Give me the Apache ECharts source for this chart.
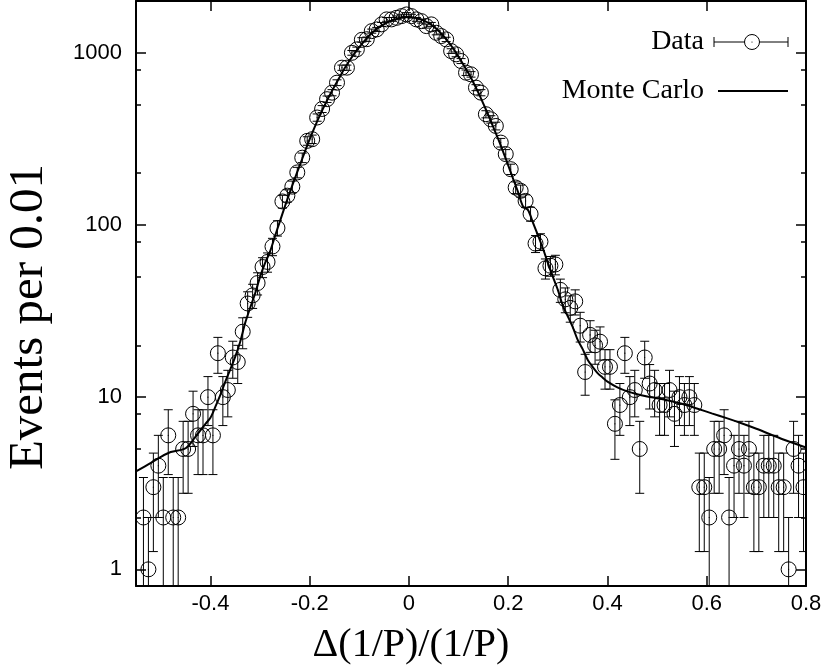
<!DOCTYPE html>
<html>
<head>
<meta charset="utf-8">
<script src="https://cdn.jsdelivr.net/npm/echarts@6/dist/echarts.min.js"></script>
<style>
html,body{margin:0;padding:0;background:#fff;}
#chart{width:828px;height:671px;}
</style>
</head>
<body>
<div id="chart"></div>
<script>
// ---- data ----
const binCenters = [
 -0.535,-0.525,-0.515,-0.505,-0.495,-0.485,-0.475,-0.465,-0.455,-0.445,
 -0.435,-0.425,-0.415,-0.405,-0.395,-0.385,-0.375,-0.365,-0.355,-0.345,
 -0.335,-0.325,-0.315,-0.305,-0.295,-0.285,-0.275,-0.265,-0.255,-0.245,
 -0.235,-0.225,-0.215,-0.205,-0.195,-0.185,-0.175,-0.165,-0.155,-0.145,
 -0.135,-0.125,-0.115,-0.105,-0.095,-0.085,-0.075,-0.065,-0.055,-0.045,
 -0.035,-0.025,-0.015,-0.005,0.005,0.015,0.025,0.035,0.045,0.055,
 0.065,0.075,0.085,0.095,0.105,0.115,0.125,0.135,0.145,0.155,
 0.165,0.175,0.185,0.195,0.205,0.215,0.225,0.235,0.245,0.255,
 0.265,0.275,0.285,0.295,0.305,0.315,0.325,0.335,0.345,0.355,
 0.365,0.375,0.385,0.395,0.405,0.415,0.425,0.435,0.445,0.455,
 0.465,0.475,0.485,0.495,0.505,0.515,0.525,0.535,0.545,0.555,
 0.565,0.575,0.585,0.595,0.605,0.615,0.625,0.635,0.645,0.655,
 0.665,0.675,0.685,0.695,0.705,0.715,0.725,0.735,0.745,0.755,
 0.765,0.775,0.785,0.795
];
const dataCounts = [
 2,1,3,4,2,6,2,2,5,5,
 8,6,6,10,6,18,10,11,17,16,
 24,35,39,46,57,61,75,96,137,148,
 167,202,246,308,315,421,472,538,587,671,
 820,820,1000,1047,1190,1200,1337,1368,1463,1564,
 1564,1597,1634,1671,1634,1564,1528,1430,1463,1308,
 1251,1197,1024,980,896,767,750,628,587,440,
 411,376,301,258,211,165,158,138,116,78,
 80,56,58,59,42,37,33,36,26,14,
 23,20,21,15,15,7,9,18,10,11,
 5,17,12,11,9,9,11,8,10,9,
 10,9,3,3,2,5,5,6,2,4,
 5,4,5,3,3,4,4,4,3,3,
 1,5,4,3
];
const mcX = [
 -0.55,-0.52,-0.50,-0.48,-0.45,-0.43,-0.41,-0.40,-0.39,-0.38,-0.37,-0.36,-0.35,-0.34,-0.33,-0.32,-0.31,-0.30,
 -0.29,-0.28,-0.27,-0.26,-0.25,-0.24,-0.23,-0.22,-0.21,-0.20,-0.19,-0.18,-0.17,-0.16,-0.15,-0.14,-0.13,-0.12,
 -0.11,-0.10,-0.09,-0.08,-0.07,-0.06,-0.05,-0.04,-0.03,-0.02,-0.01,0.00,0.01,0.02,0.03,0.04,0.05,0.06,
 0.07,0.08,0.09,0.10,0.11,0.12,0.13,0.14,0.15,0.16,0.17,0.18,0.19,0.20,0.21,0.22,0.23,0.24,0.25,0.26,
 0.27,0.28,0.29,0.30,0.31,0.32,0.33,0.34,0.35,0.36,0.37,0.38,0.39,0.40,0.42,0.44,0.46,0.48,0.50,0.52,
 0.55,0.58,0.61,0.64,0.67,0.70,0.73,0.76,0.80
];
const mcY = [
 3.7,4.15,4.5,4.8,5.05,5.9,7.0,7.6,8.8,10.3,12.3,14.5,17.2,21,27,33,40,50,
 60,70,86,105,128,155,186,222,265,315,370,430,495,565,640,720,810,900,
 990,1080,1170,1260,1340,1410,1470,1520,1560,1590,1610,1615,1605,1580,1540,1490,1420,1340,
 1250,1150,1050,950,850,760,670,585,505,435,370,315,265,222,185,155,128,122,103,87,
 73,60,50,42,34,29.5,25.5,21.5,19,16.5,15,13.8,13,12.3,11.4,10.8,10.4,10.1,9.85,9.6,
 9.15,8.6,8.05,7.55,7.05,6.55,6.05,5.6,5.1
];
const xTickValues = [-0.4,-0.2,0,0.2,0.4,0.6,0.8];
const yMajorTicks = [1,10,100,1000];
const yMinorTicks = [2,5,8,20,50,80,200,500,800,2000];

// ---- chart ----
const chart = echarts.init(document.getElementById('chart'), null, {renderer:'canvas'});
const dataPts = binCenters.map((x,i)=>[x, dataCounts[i]]);
const mcPts = mcX.map((x,i)=>[x, mcY[i]]);

const axisFont = {fontFamily:'Liberation Sans', fontSize:22, color:'#000'};
function yAx(pos, major, withLine, withLabel){
  return {
    type:'log', logBase:10, min:0.8, max:2000, position:pos,
    axisLine:{show:withLine, onZero:false, lineStyle:{color:'#000', width:2}},
    axisTick:{show:true, inside:true, length: major?10:5, customValues: major?yMajorTicks:yMinorTicks,
              lineStyle:{color:'#000', width:1.5}},
    axisLabel: withLabel ? Object.assign({show:true, customValues:yMajorTicks, margin:14,
              formatter:v=>String(Math.round(v))}, axisFont) : {show:false},
    splitLine:{show:false}, minorTick:{show:false}
  };
}
function xAx(pos, withLabel){
  return {
    type:'value', min:-0.55, max:0.8, position:pos,
    axisLine:{show:true, onZero:false, lineStyle:{color:'#000', width:2}},
    axisTick:{show:true, inside:true, length:10, customValues:xTickValues, lineStyle:{color:'#000', width:1.5}},
    axisLabel: withLabel ? Object.assign({show:true, customValues:xTickValues, margin:7,
              formatter:v=>{const r=Math.round(v*10)/10; return r===0?'0':String(r);}}, axisFont) : {show:false},
    splitLine:{show:false}
  };
}

function renderErr(params, api){
  const x = api.value(0), n = api.value(1);
  const e = Math.sqrt(n);
  const lo = Math.max(n - e, 0.3);
  const hi = n + e;
  const pc = api.coord([x, n]);
  const pl = api.coord([x, lo]);
  const ph = api.coord([x, hi]);
  const cw = 4.5, r = 7.5;
  const st = {stroke:'#000', lineWidth:1, fill:null};
  return {type:'group', children:[
    {type:'line', shape:{x1:pc[0], y1:pl[1], x2:pc[0], y2:ph[1]}, style:st},
    {type:'line', shape:{x1:pc[0]-cw, y1:pl[1], x2:pc[0]+cw, y2:pl[1]}, style:st},
    {type:'line', shape:{x1:pc[0]-cw, y1:ph[1], x2:pc[0]+cw, y2:ph[1]}, style:st},
    {type:'circle', shape:{cx:pc[0], cy:pc[1], r:r}, style:{stroke:'#000', fill:'none', lineWidth:1}},
    {type:'circle', shape:{cx:pc[0], cy:pc[1], r:0.6}, style:{fill:'#000'}}
  ]};
}

const option = {
  animation:false,
  backgroundColor:'#fff',
  grid:{left:136, right:22, top:1, bottom:85, containLabel:false},
  xAxis:[xAx('bottom', true), xAx('top', false)],
  yAxis:[yAx('left', true, true, true), yAx('left', false, false, false),
         yAx('right', true, true, false), yAx('right', false, false, false)],
  series:[
    {name:'Monte Carlo', type:'line', data:mcPts, smooth:0.3, showSymbol:false, symbol:'none',
     xAxisIndex:0, yAxisIndex:0, lineStyle:{color:'#000', width:2}, clip:true, z:2},
    {name:'Data', type:'custom', data:dataPts, renderItem:renderErr, encode:{x:0, y:1},
     xAxisIndex:0, yAxisIndex:0, clip:true, z:3}
  ],
  graphic:[
    {type:'text', x:29, y:317, rotation:Math.PI/2,
     style:{text:'Events per 0.01', font:'49px "Liberation Serif"', fill:'#000', textAlign:'center', textVerticalAlign:'middle'}},
    {type:'text', x:411, y:645,
     style:{text:'Δ(1/P)/(1/P)', font:'40px "Liberation Serif"', fill:'#000', textAlign:'center', textVerticalAlign:'middle'}},
    {type:'text', x:704, y:42,
     style:{text:'Data', font:'28px "Liberation Serif"', fill:'#000', textAlign:'right', textVerticalAlign:'middle'}},
    {type:'text', x:704, y:91,
     style:{text:'Monte Carlo', font:'28px "Liberation Serif"', fill:'#000', textAlign:'right', textVerticalAlign:'middle'}},
    {type:'line', shape:{x1:714, y1:42, x2:788, y2:42}, style:{stroke:'#000', lineWidth:1}},
    {type:'line', shape:{x1:714, y1:37, x2:714, y2:47}, style:{stroke:'#000', lineWidth:1}},
    {type:'line', shape:{x1:788, y1:37, x2:788, y2:47}, style:{stroke:'#000', lineWidth:1}},
    {type:'circle', shape:{cx:752, cy:42, r:7.5}, style:{stroke:'#000', fill:'#fff', lineWidth:1}},
    {type:'circle', shape:{cx:752, cy:42, r:0.6}, style:{fill:'#000'}},
    {type:'line', shape:{x1:718, y1:91, x2:788, y2:91}, style:{stroke:'#000', lineWidth:2}}
  ]
};
chart.setOption(option);
</script>
</body>
</html>
